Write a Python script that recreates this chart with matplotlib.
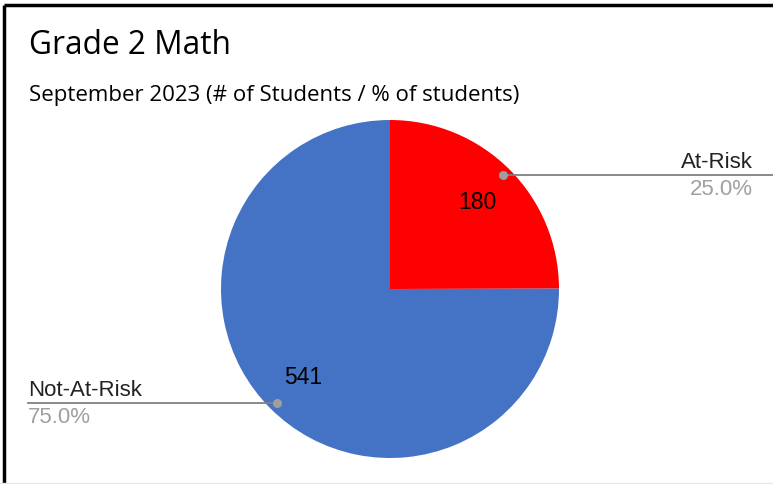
import numpy as np
import matplotlib.pyplot as plt

W, H = 773, 485

labels = ["At-Risk", "Not-At-Risk"]
students = [180, 541]
colors = ["#FF0000", "#4472C4"]

fig = plt.figure(figsize=(W / 100, H / 100), dpi=100)
ax = fig.add_axes([0, 0, 1, 1])

cx, cy, r = 390, H - 290, 169

wedges, texts, autotexts = ax.pie(
    students, colors=colors, startangle=90, counterclock=False,
    center=(cx, cy), radius=r, pctdistance=0.73,
    autopct=lambda p: "{:.0f}".format(p * sum(students) / 100),
    textprops=dict(family="Liberation Sans", fontsize=16.5, color="black"),
    wedgeprops=dict(linewidth=0),
)
ax.set_xlim(0, W)
ax.set_ylim(0, H)
ax.set_aspect("equal")
ax.axis("off")

total = sum(students)
for w, name, n in zip(wedges, labels, students):
    ang = np.deg2rad((w.theta1 + w.theta2) / 2)
    dx, dy = np.cos(ang), np.sin(ang)
    px, py = cx + 0.95 * r * dx, cy + 0.95 * r * dy
    ax.plot(px, py, "o", color="#9E9E9E", markersize=5.5, zorder=4)
    pct = "{:.1f}%".format(100 * n / total)
    if dx > 0:
        x0, ha = 753, "right"
        ax.plot([px, W], [py, py], color="#808080", lw=1.3, zorder=3)
    else:
        x0, ha = 28, "left"
        ax.plot([28, px], [py, py], color="#808080", lw=1.3, zorder=3)
    ax.text(x0, py + 3, name, ha=ha, va="bottom",
            family="Liberation Sans", fontsize=16, color="#222222")
    ax.text(x0, py - 3, pct, ha=ha, va="top",
            family="Liberation Sans", fontsize=16, color="#A0A0A0")

# titles
ax.text(29, H - 46, "Grade 2 Math", ha="left", va="center",
        family="Open Sans", fontsize=22.8, color="black")
ax.text(29, H - 95, "September 2023 (# of Students / % of students)",
        ha="left", va="center", family="Open Sans", fontsize=16, color="black")

# frame lines on top and left
ax.plot([4, W], [H - 6, H - 6], color="black", lw=2.5, solid_capstyle="butt")
ax.plot([4, 4], [H - 6, 0], color="black", lw=2.5, solid_capstyle="butt")
ax.plot([0, W], [1.5, 1.5], color="#E6E6E6", lw=1)

fig.savefig("out.png", dpi=100)
